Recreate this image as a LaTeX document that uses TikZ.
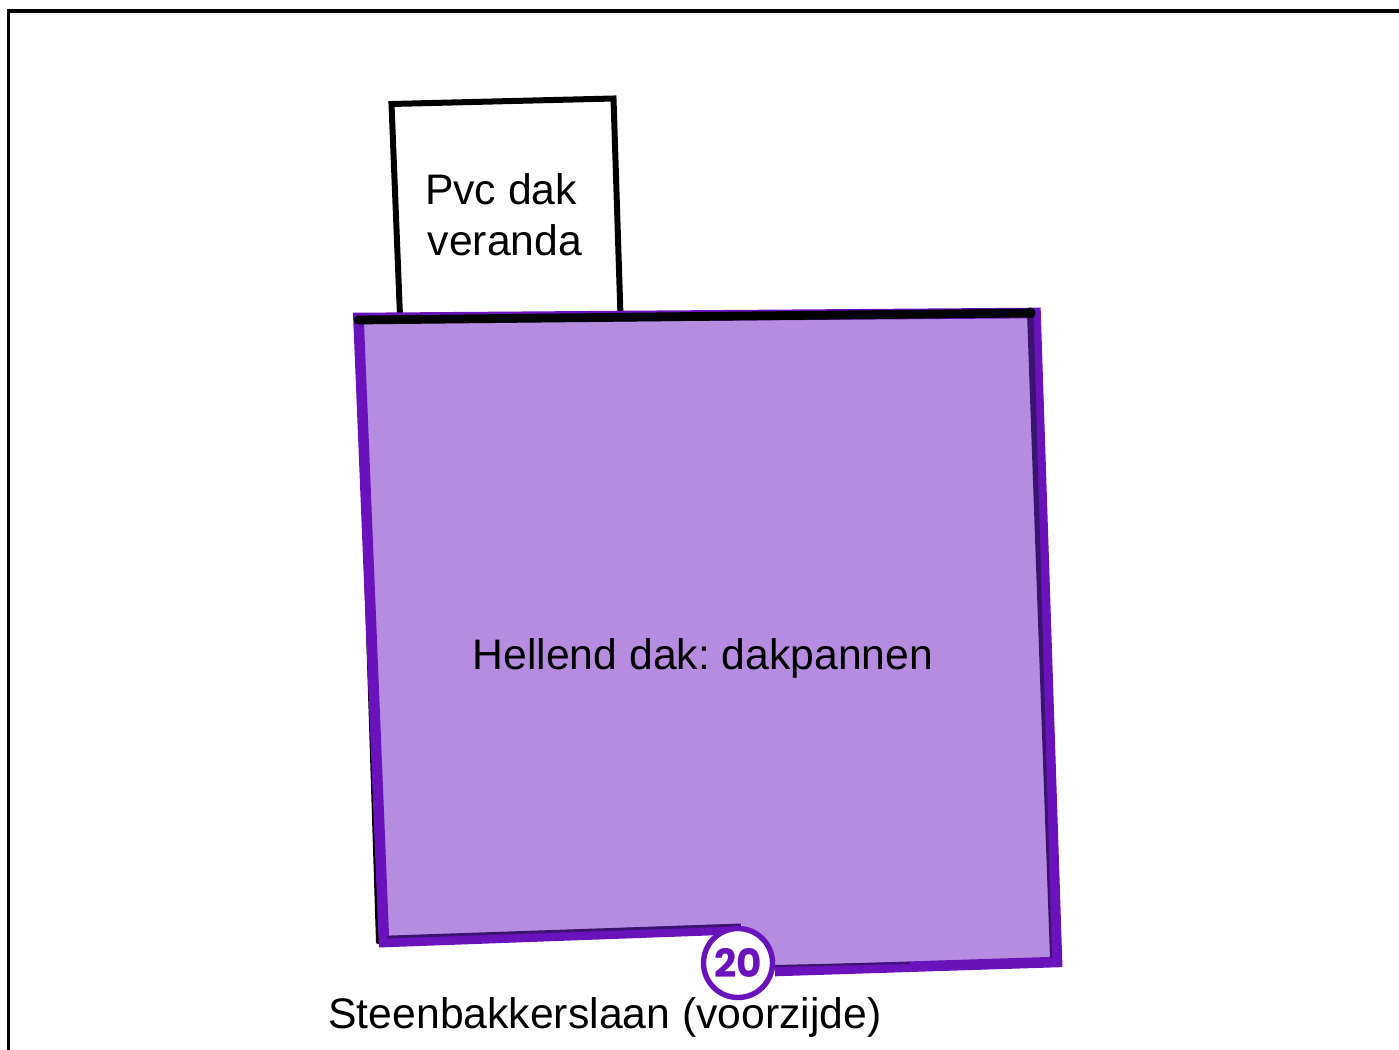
\documentclass[tikz,border=0pt]{standalone}
\usepackage{fontspec}
\setmainfont{Liberation Sans}
\newfontfamily\badgefont[Scale=1]{Poppins}
\definecolor{roof}{HTML}{B58CE0}
\definecolor{rim}{HTML}{6A12BB}
\definecolor{darkrim}{HTML}{3A1470}
\tikzset{
 label text/.style={anchor=base,font=\fontsize{21.35}{26}\selectfont\frenchspacing,text=black,inner sep=0pt},
 frame line/.style={draw=black,line width=1.6pt},
 veranda line/.style={draw=black,line width=3pt,line join=miter},
 rim line/.style={draw=rim,line width=5.3pt,line join=miter},
 black edge/.style={draw=black,line width=2pt,line cap=round},
 top edge/.style={draw=black,line width=4.4pt,line cap=round},
 badge/.style={circle,draw=rim,fill=white,line width=2.7pt,minimum size=34.5pt,inner sep=0pt,text=rim,font=\badgefont\fontsize{19.5}{22}\selectfont\bfseries}
}
\begin{document}
\begin{tikzpicture}[x=0.5pt,y=-0.5pt]
\useasboundingbox (0,0) rectangle (1399,1050);
\fill[white] (0,0) rectangle (1399,1050);
% outer frame
\coordinate (f1) at (8.5,1052);
\coordinate (f2) at (8.5,11);
\coordinate (f3) at (1401,11);
\draw[frame line] (f1) -- (f2) -- (f3);
% veranda
\coordinate (v1) at (400,316);
\coordinate (v2) at (391.5,104);
\coordinate (v3) at (613.5,98.5);
\coordinate (v4) at (620.5,316);
\draw[veranda line] (v1) -- (v2) -- (v3) -- (v4);
% main roof corners
\coordinate (tl) at (358.5,318);
\coordinate (tr) at (1035.5,313);
\coordinate (br) at (1057,962);
\coordinate (nr) at (775,971);
\coordinate (nt) at (741,924);
\coordinate (nl) at (741,929);
\coordinate (bl) at (384,942);
\coordinate (kl) at (358,320);
\coordinate (kr) at (1030,313);
\coordinate (kb) at (378,942);
\draw[black edge] (kl) -- (kb);
\fill[roof] (tl) -- (tr) -- (br) -- (nr) -- (nt) -- (bl) -- cycle;
\draw[rim line] (nr) -- (br) -- (tr) -- (tl) -- (bl) -- (nl);
\fill[darkrim] (1027,313) -- (1033.5,313) -- (1052,958) -- (1050,958) -- cycle;
\draw[draw=darkrim,line width=1pt] (775,966) -- (910,963);
\draw[draw=darkrim,line width=1.4pt,line cap=round] (388,937) -- (740,925);
\draw[top edge] (kl) -- (kr);
\fill[black] (kr) circle (2.8pt);
% labels
\node[label text] (pvc) at (501,204) {Pvc dak};
\node[label text] (ver) at (505,255) {veranda};
\node[label text] (roofname) at (703,669) {Hellend dak: dakpannen};
\node[label text] (street) at (605,1028) {Steenbakkerslaan (voorzijde)};
\node[badge] (num) at (738,963) {20};
\end{tikzpicture}
\end{document}
